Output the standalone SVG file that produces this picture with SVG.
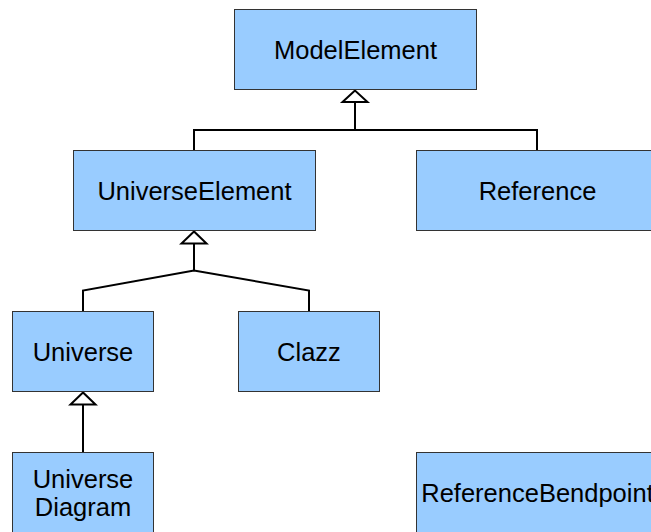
<svg xmlns="http://www.w3.org/2000/svg" width="651" height="532" viewBox="0 0 651 532">
  <style>
    .box { fill: #99ccff; stroke: #333333; stroke-width: 1; }
    .lbl { font-family: "Liberation Sans", Arial, sans-serif; font-size: 25.5px; fill: #000000; text-anchor: middle; }
    .edge { fill: none; stroke: #000000; stroke-width: 2; }
    .head { fill: #ffffff; stroke: #000000; stroke-width: 2; stroke-linejoin: miter; }
  </style>
  <rect width="651" height="532" fill="#ffffff"/>

  <g id="connectors">
    <!-- UniverseElement, Reference -> ModelElement -->
    <polyline class="edge" points="194,150 194,130 537,130 537,150"/>
    <line class="edge" x1="355" y1="130" x2="355" y2="102"/>
    <polygon class="head" points="355,90.5 342.5,102 367.5,102"/>
    <!-- Universe, Clazz -> UniverseElement -->
    <polyline class="edge" points="83,311 83,290.5 194,270.5 309,290.5 309,311"/>
    <line class="edge" x1="194" y1="270.5" x2="194" y2="243.5"/>
    <polygon class="head" points="194,231.5 181.5,243.5 206.5,243.5"/>
    <!-- UniverseDiagram -> Universe -->
    <line class="edge" x1="83" y1="452" x2="83" y2="404.5"/>
    <polygon class="head" points="83,392.5 70.5,404.5 95.5,404.5"/>
  </g>

  <g id="ModelElement">
    <rect class="box" x="234.5" y="9.5" width="242" height="80"/>
    <text class="lbl" x="355.5" y="58.5">ModelElement</text>
  </g>
  <g id="UniverseElement">
    <rect class="box" x="73.5" y="150.5" width="242" height="80"/>
    <text class="lbl" x="194.5" y="199.5">UniverseElement</text>
  </g>
  <g id="Reference">
    <rect class="box" x="416.5" y="150.5" width="242" height="80"/>
    <text class="lbl" x="537.5" y="199.5">Reference</text>
  </g>
  <g id="Universe">
    <rect class="box" x="12.5" y="311.5" width="141" height="80"/>
    <text class="lbl" x="83" y="360.5">Universe</text>
  </g>
  <g id="Clazz">
    <rect class="box" x="238.5" y="311.5" width="141" height="80"/>
    <text class="lbl" x="309" y="360.5">Clazz</text>
  </g>
  <g id="UniverseDiagram">
    <rect class="box" x="12.5" y="452.5" width="141" height="90"/>
    <text class="lbl" x="83" y="487.5">Universe</text>
    <text class="lbl" x="83" y="516">Diagram</text>
  </g>
  <g id="ReferenceBendpoint">
    <rect class="box" x="416.5" y="452.5" width="242" height="90"/>
    <text class="lbl" x="537.5" y="502">ReferenceBendpoint</text>
  </g>
</svg>
